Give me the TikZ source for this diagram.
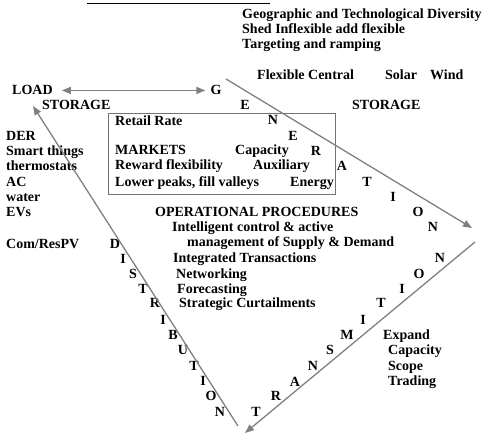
\documentclass[tikz,border=0pt]{standalone}
\usepackage{fontspec}
\setmainfont{Liberation Serif}
\usetikzlibrary{arrows.meta}
\tikzset{
  txt/.style={anchor=base west, inner sep=0pt, font=\bfseries\fontsize{14}{15}\selectfont},
  ltr/.style={anchor=base, inner sep=0pt, font=\bfseries\fontsize{14}{15}\selectfont},
  flow/.style={draw=black!50, line width=1.3pt},
}
\begin{document}
\begin{tikzpicture}[x=1pt, y=-1pt, >={Triangle[length=9pt,width=7pt]}]
\useasboundingbox (0,0) rectangle (491,436);
\draw [line width=0.8pt] (87,3) -- (270,3);
\draw [draw=black!55, line width=1pt] (108,114) rectangle (335,195);

% headings at the top right
\node[txt] (div) at (242,19) {Geographic and Technological Diversity};
\node[txt] (shed) at (242,34) {Shed Inflexible add flexible};
\node[txt] (targ) at (242,49) {Targeting and ramping};
\node[txt] (flex) at (257,80) {Flexible Central};
\node[txt] (solar) at (385,80) {Solar};
\node[txt] (wind) at (430,80) {Wind};
\node[txt] (load) at (12,95) {LOAD};
\node[txt] (storl) at (42,110) {STORAGE};
\node[txt] (storr) at (352,110) {STORAGE};

% markets box
\node[txt] (retail) at (115,126) {Retail Rate};
\node[txt] (mkt) at (115,155) {MARKETS};
\node[txt] (cap) at (235,155) {Capacity};
\node[txt] (reward) at (115,170) {Reward flexibility};
\node[txt] (aux) at (253,170) {Auxiliary};
\node[txt] (lower) at (115,186) {Lower peaks, fill valleys};
\node[txt] (energy) at (290,186) {Energy};

% load side
\node[txt] (der) at (6,141) {DER};
\node[txt] (smart) at (6,156) {Smart things};
\node[txt] (thermo) at (6,171) {thermostats};
\node[txt] (ac) at (6,186) {AC};
\node[txt] (water) at (6,201) {water};
\node[txt] (evs) at (6,216) {EVs};
\node[txt] (pv) at (6,248) {Com/ResPV};

% operational procedures
\node[txt] (ops) at (155,216) {OPERATIONAL PROCEDURES};
\node[txt] (intel) at (172,232) {Intelligent control \& active};
\node[txt] (mgmt) at (187,247) {management of Supply \& Demand};
\node[txt] (integ) at (173,262) {Integrated Transactions};
\node[txt] (net) at (176,278) {Networking};
\node[txt] (fore) at (177,293) {Forecasting};
\node[txt] (curt) at (179,308) {Strategic Curtailments};

% transmission notes
\node[txt] (expand) at (383,339) {Expand};
\node[txt] (capy) at (388,354) {Capacity};
\node[txt] (scope) at (388,370) {Scope};
\node[txt] (trade) at (388,385) {Trading};

% G E N E R A T I O N
\node[ltr] (gen1) at (216,95) {G};
\node[ltr] (gen2) at (245,110) {E};
\node[ltr] (gen3) at (273,125) {N};
\node[ltr] (gen4) at (293,141) {E};
\node[ltr] (gen5) at (316,156) {R};
\node[ltr] (gen6) at (342,171) {A};
\node[ltr] (gen7) at (367,186) {T};
\node[ltr] (gen8) at (393,202) {I};
\node[ltr] (gen9) at (418,216) {O};
\node[ltr] (gen10) at (433,232) {N};

% T R A N S M I T I O N
\node[ltr] (tr1) at (256,416) {T};
\node[ltr] (tr2) at (276,400) {R};
\node[ltr] (tr3) at (295,386) {A};
\node[ltr] (tr4) at (313,370) {N};
\node[ltr] (tr5) at (330,354) {S};
\node[ltr] (tr6) at (347,339) {M};
\node[ltr] (tr7) at (363,324) {I};
\node[ltr] (tr8) at (381,308) {T};
\node[ltr] (tr9) at (402,293) {I};
\node[ltr] (tr10) at (419,278) {O};
\node[ltr] (tr11) at (440,262) {N};

% D I S T R I B U T I O N
\node[ltr] (dis1) at (115,248) {D};
\node[ltr] (dis2) at (123,263) {I};
\node[ltr] (dis3) at (133,278) {S};
\node[ltr] (dis4) at (143,293) {T};
\node[ltr] (dis5) at (155,308) {R};
\node[ltr] (dis6) at (163,324) {I};
\node[ltr] (dis7) at (173,339) {B};
\node[ltr] (dis8) at (183,354) {U};
\node[ltr] (dis9) at (194,370) {T};
\node[ltr] (dis10) at (203,385) {I};
\node[ltr] (dis11) at (211,400) {O};
\node[ltr] (dis12) at (220,416) {N};

\coordinate (gtop) at (226,79);
\coordinate (gend) at (472,228);
\coordinate (ttop) at (475,242);
\coordinate (tend) at (245,433);
\coordinate (dtop) at (238,426);
\coordinate (dend) at (33,106);

% edges
\path (load) edge [flow, <->, shorten <=9pt, shorten >=5pt] (gen1);
\path (gtop) edge [flow, ->] (gend); % generation
\path (ttop) edge [flow, ->] (tend); % transmission
\path (dtop) edge [flow, ->] (dend); % distribution
\end{tikzpicture}
\end{document}
